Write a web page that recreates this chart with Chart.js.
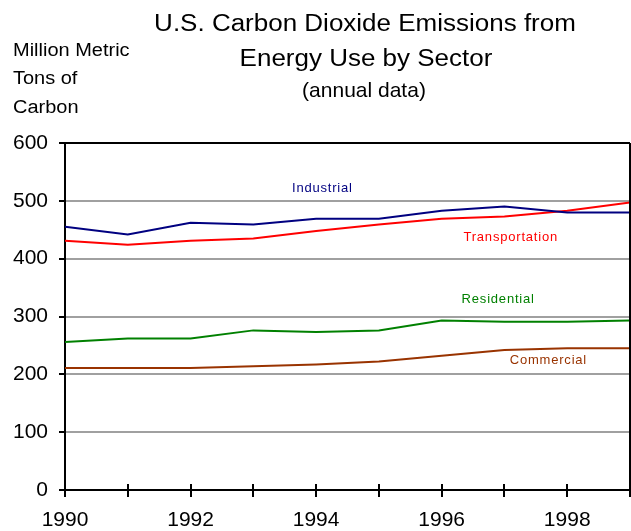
<!DOCTYPE html>
<html>
<head>
<meta charset="utf-8">
<script src="https://cdn.jsdelivr.net/npm/chart.js@4.4.1/dist/chart.umd.min.js"></script>
<style>
    html, body { margin: 0; padding: 0; background: #fff; }
    #wrap { width: 631px; height: 531px; }
</style>
</head>
<body>
<div id="wrap"><canvas id="myChart" width="631" height="531"></canvas></div>
<script>
// Date (milioane tone metrice de carbon)
const years = [1990, 1991, 1992, 1993, 1994, 1995, 1996, 1997, 1998, 1999];
const industrial = [455, 442, 462, 459, 469, 469, 483, 490, 480, 480];
const transportation = [431, 424, 431, 435, 448, 459, 469, 473, 483, 497];
const residential = [256, 262, 262, 276, 273, 276, 293, 291, 291, 293];
const commercial = [211, 211, 211, 214, 217, 222, 232, 242, 245, 245];

const seriesNames = ['Industrial', 'Transportation', 'Residential', 'Commercial'];
const seriesColors = ['#000080', '#ff0000', '#008000', '#993300'];
// pozitia etichetelor, in unitatile datelor (an, valoare)
const labelYears = [1994.1, 1997.1, 1996.9, 1997.7];
const labelValues = [521, 436, 330, 224];

const titleLines = ['U.S. Carbon Dioxide Emissions from', 'Energy Use by Sector', '(annual data)'];
const unitLines = ['Million Metric', 'Tons of', 'Carbon'];

const FONT = '"Liberation Sans", Arial, sans-serif';

const toPoints = arr => arr.map((v, i) => ({ x: years[i], y: v }));

const allSeries = [industrial, transportation, residential, commercial];
const datasets = allSeries.map((arr, i) => ({
    label: seriesNames[i],
    data: toPoints(arr),
    borderColor: seriesColors[i],
    borderWidth: 2,
    pointRadius: 0,
    fill: false,
    tension: 0
}));

// textul din original e putin latit pe orizontala
function drawText(ctx, text, x, y, size, stretch) {
    ctx.save();
    ctx.translate(x, y);
    ctx.scale(stretch, 1);
    ctx.font = size + 'px ' + FONT;
    ctx.fillText(text, 0, 0);
    ctx.restore();
}

// Textele (titlu, unitati, etichete de serii) si liniile ramase din cadru
const textPlugin = {
    id: 'textPlugin',
    afterDraw(chart) {
        const ctx = chart.ctx;
        const xs = chart.scales.x;
        const ys = chart.scales.y;
        const area = chart.chartArea;
        ctx.save();
        ctx.fillStyle = '#000';

        // titlu
        ctx.textAlign = 'center';
        ctx.textBaseline = 'alphabetic';
        drawText(ctx, titleLines[0], 365, 31, 23, 1.13);
        drawText(ctx, titleLines[1], 366, 66, 23, 1.13);
        drawText(ctx, titleLines[2], 364, 97, 21, 1.0);

        // unitati
        ctx.textAlign = 'left';
        drawText(ctx, unitLines[0], 13, 56, 18, 1.11);
        drawText(ctx, unitLines[1], 13, 84, 18, 1.11);
        drawText(ctx, unitLines[2], 13, 113, 18, 1.11);

        // etichetele seriilor
        ctx.textAlign = 'center';
        ctx.textBaseline = 'middle';
        ctx.font = '13px ' + FONT;
        ctx.letterSpacing = '0.8px';
        seriesNames.forEach((name, i) => {
            ctx.fillStyle = seriesColors[i];
            ctx.fillText(name, xs.getPixelForValue(labelYears[i]), ys.getPixelForValue(labelValues[i]));
        });
        ctx.letterSpacing = '0px';

        // tick-urile axei X trec si deasupra axei
        ctx.strokeStyle = '#000';
        ctx.lineWidth = 2;
        ctx.beginPath();
        xs.ticks.forEach(t => {
            const px = Math.round(xs.getPixelForValue(t.value));
            ctx.moveTo(px, area.bottom - 6);
            ctx.lineTo(px, area.bottom);
        });
        // marginea din dreapta
        ctx.moveTo(area.right, area.top);
        ctx.lineTo(area.right, area.bottom);
        ctx.stroke();
        ctx.restore();
    }
};

const config = {
    type: 'line',
    data: { datasets: datasets },
    options: {
        responsive: false,
        animation: false,
        layout: { padding: { top: 143, right: 1, left: 0, bottom: 0 } },
        plugins: {
            legend: { display: false },
            title: { display: false },
            tooltip: { enabled: false }
        },
        scales: {
            x: {
                type: 'linear',
                min: 1990,
                max: 1999,
                afterFit: scale => {
                    scale.height = 41;
                    scale.paddingLeft = 0;
                    scale.paddingRight = 0;
                },
                ticks: {
                    stepSize: 1,
                    autoSkip: false,
                    maxRotation: 0,
                    padding: 11,
                    color: '#000',
                    font: { family: FONT, size: 21 },
                    callback: v => (v % 2 === 0 && v < 1999) ? String(v) : ''
                },
                grid: {
                    drawOnChartArea: false,
                    color: '#000',
                    tickColor: '#000',
                    lineWidth: 2,
                    tickLength: 7
                },
                border: { color: '#000', width: 2 }
            },
            y: {
                min: 0,
                max: 600,
                afterFit: scale => { scale.width = 65; },
                ticks: {
                    stepSize: 100,
                    padding: 11,
                    color: '#000',
                    font: { family: FONT, size: 21 }
                },
                grid: {
                    color: c => (c.tick && c.tick.value === 600) ? '#000' : '#a0a0a0',
                    tickColor: '#000',
                    lineWidth: 2,
                    tickLength: 6
                },
                border: { color: '#000', width: 2 }
            }
        }
    },
    plugins: [textPlugin]
};

const myChart = new Chart(document.getElementById('myChart'), config);
</script>
</body>
</html>
